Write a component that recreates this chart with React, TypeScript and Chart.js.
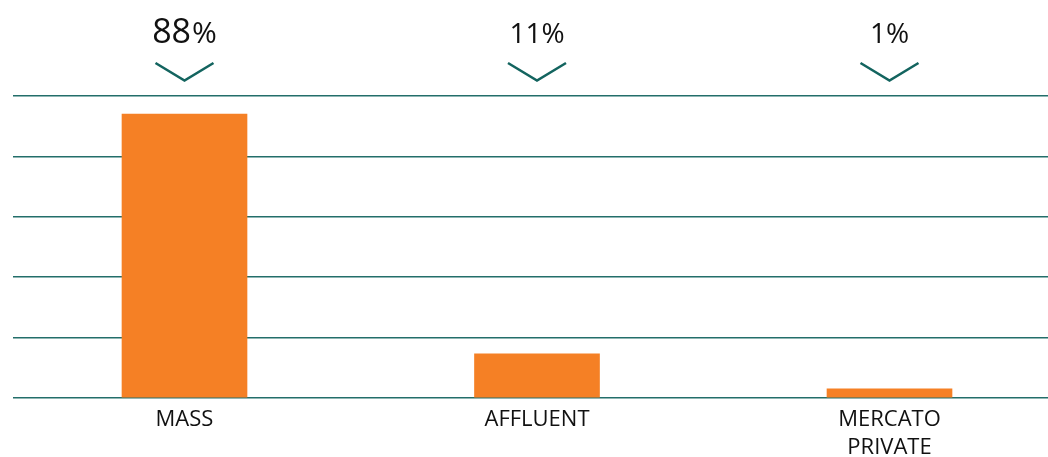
import React, { useEffect, useRef } from "react";
import { Chart, registerables } from "chart.js";

Chart.register(...registerables);

const categories: string[][] = [["MASS"], ["AFFLUENT"], ["MERCATO", "PRIVATE"]];
const barValues: number[] = [94, 14.6, 3];
const shareNumbers: string[] = ["88", "11", "1"];
const shareSuffix = "%";
const yTicks: number[] = [0, 20, 40, 60, 80, 100];

const FONT = "'Open Sans', 'Noto Sans', sans-serif";
const TEAL = "#13645f";

const topLabelsPlugin = {
  id: "topLabels",
  afterDraw(chart: any) {
    const ctx = chart.ctx as CanvasRenderingContext2D;
    const xs = chart.scales.x;
    ctx.save();
    shareNumbers.forEach((num, i) => {
      const cx = xs.getPixelForValue(i);
      const big = i === 0;
      const numFont = `${big ? 34 : 28}px ${FONT}`;
      const pctFont = `${big ? 30 : 28}px ${FONT}`;
      ctx.font = numFont;
      const wNum = ctx.measureText(num).width;
      ctx.font = pctFont;
      const wPct = ctx.measureText(shareSuffix).width;
      const gap = big ? 1 : 0;
      const start = cx - (wNum + gap + wPct) / 2;
      const baseY = 43;
      ctx.fillStyle = "#111111";
      ctx.textBaseline = "alphabetic";
      ctx.textAlign = "left";
      ctx.font = numFont;
      ctx.fillText(num, start, baseY);
      ctx.font = pctFont;
      ctx.fillText(shareSuffix, start + wNum + gap, baseY);

      ctx.strokeStyle = TEAL;
      ctx.lineWidth = 2.6;
      ctx.lineJoin = "miter";
      ctx.beginPath();
      ctx.moveTo(cx - 29, 63);
      ctx.lineTo(cx, 80.5);
      ctx.lineTo(cx + 29, 63);
      ctx.stroke();
    });
    ctx.restore();
  },
};

export default function App() {
  const ref = useRef<HTMLCanvasElement | null>(null);

  useEffect(() => {
    if (!ref.current) return;
    const chart = new Chart(ref.current, {
      type: "bar",
      data: {
        datasets: [
          {
            data: barValues.map((v, i) => ({ x: i, y: v })),
            backgroundColor: "#f58025",
            borderWidth: 0,
            barThickness: 125,
          },
        ],
      },
      options: {
        animation: false,
        responsive: false,
        events: [],
        layout: { padding: { left: 13, right: 0, top: 96, bottom: 0 } },
        plugins: { legend: { display: false }, tooltip: { enabled: false } },
        scales: {
          x: {
            type: "linear",
            offset: false,
            min: -0.48652,
            max: 2.44965,
            grid: { display: false, drawTicks: false, offset: false },
            border: { display: false },
            afterBuildTicks: (axis: any) => {
              axis.ticks = categories.map((_, i) => ({ value: i }));
            },
            afterFit: (axis: any) => {
              axis.height = 59;
            },
            ticks: {
              autoSkip: false,
              maxRotation: 0,
              padding: 7,
              color: "#111111",
              font: { family: FONT, size: 22, lineHeight: 1.3 },
              callback: (v: any) => categories[Number(v)] ?? "",
            },
          },
          y: {
            min: 0,
            max: 100,
            afterBuildTicks: (axis: any) => {
              axis.ticks = yTicks.map((v) => ({ value: v }));
            },
            ticks: { display: false },
            border: { display: false },
            grid: { color: "#236e6a", lineWidth: 1.6, drawTicks: false },
          },
        },
      },
      plugins: [topLabelsPlugin],
    });
    return () => chart.destroy();
  }, []);

  return (
    <div style={{ position: "absolute", left: 0, top: 0, width: 1048, height: 457, overflow: "hidden", background: "#fff" }}>
      <canvas ref={ref} width={1048} height={457} />
    </div>
  );
}
